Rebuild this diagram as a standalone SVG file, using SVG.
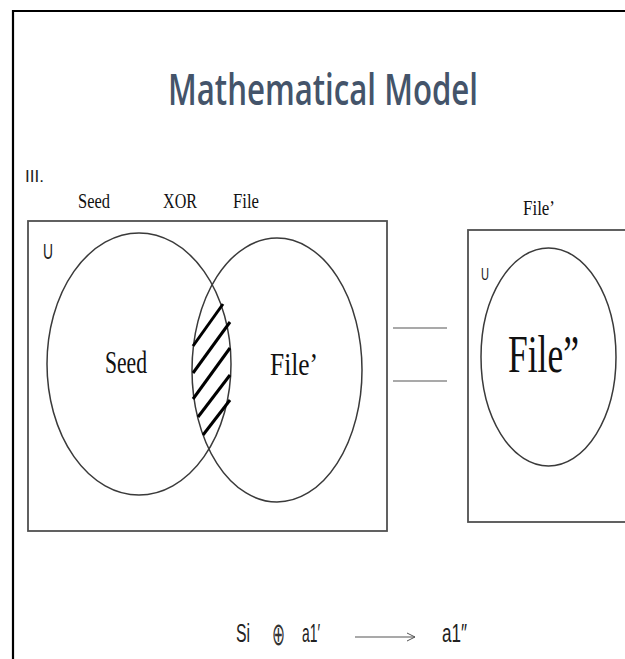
<svg xmlns="http://www.w3.org/2000/svg" width="625" height="659" viewBox="0 0 625 659">
<defs>
<style>
.frame{fill:none;stroke:#000;stroke-width:2.2}
.box{fill:none;stroke:#505050;stroke-width:1.8}
.circ{fill:none;stroke:#3a3a3a;stroke-width:1.5}
.hatch{stroke:#000;stroke-width:3;stroke-linecap:butt}
.serif{font-family:"Liberation Serif","Times New Roman",serif;fill:#111}
.sans{font-family:"Liberation Sans",Arial,sans-serif;fill:#222}
.title{font-family:"Open Sans","Liberation Sans",sans-serif;fill:#44546A;font-weight:600}
.conn{stroke:#555;stroke-width:1.2;fill:none}
</style>
<marker id="open" viewBox="0 0 10 10" refX="9" refY="5" markerWidth="10" markerHeight="10" markerUnits="userSpaceOnUse" orient="auto">
<path d="M1,1 L9,5 L1,9" fill="none" stroke="#555" stroke-width="1"/>
</marker>
</defs>
<rect width="625" height="659" fill="#fff"/>
<path class="frame" d="M13,659 V11 H625"/>
<text class="title" x="168" y="105" font-size="44" textLength="310" lengthAdjust="spacingAndGlyphs">Mathematical Model</text>
<text class="sans" x="25" y="182" font-size="17" fill="#333">III.</text>
<text class="serif" x="78" y="208" font-size="22" textLength="32" lengthAdjust="spacingAndGlyphs">Seed</text>
<text class="serif" x="163" y="208" font-size="22" textLength="34" lengthAdjust="spacingAndGlyphs">XOR</text>
<text class="serif" x="233" y="208" font-size="22" textLength="26" lengthAdjust="spacingAndGlyphs">File</text>
<g id="venn">
<rect class="box" x="28" y="221" width="359" height="310"/>
<text class="sans" x="43" y="259" font-size="22" textLength="10" lengthAdjust="spacingAndGlyphs">U</text>
<g id="seed">
<ellipse class="circ" cx="139" cy="364" rx="92" ry="131"/>
<text class="serif" x="105" y="373" font-size="31" textLength="42" lengthAdjust="spacingAndGlyphs">Seed</text>
</g>
<g id="file">
<ellipse class="circ" cx="277" cy="370" rx="85" ry="132"/>
<text class="serif" x="270" y="375" font-size="31" textLength="48" lengthAdjust="spacingAndGlyphs">File’</text>
</g>
<g id="hatching">
<line class="hatch" x1="193" y1="346" x2="223" y2="304"/>
<line class="hatch" x1="193" y1="373" x2="230" y2="322"/>
<line class="hatch" x1="193" y1="399" x2="230" y2="348"/>
<line class="hatch" x1="198" y1="417" x2="230" y2="375"/>
<line class="hatch" x1="203" y1="435" x2="230" y2="400"/>
</g>
</g>
<g id="connectors">
<line class="conn" x1="393" y1="328" x2="447" y2="328"/>
<line class="conn" x1="393" y1="381" x2="447" y2="381"/>
<line class="conn" x1="355" y1="637" x2="415" y2="637" marker-end="url(#open)"/>
</g>
<g id="result">
<text class="serif" x="523" y="215" font-size="22" textLength="32" lengthAdjust="spacingAndGlyphs">File’</text>
<rect class="box" x="468" y="230" width="170" height="292"/>
<text class="sans" x="481" y="280" font-size="17" textLength="8" lengthAdjust="spacingAndGlyphs">U</text>
<ellipse class="circ" cx="548.5" cy="357" rx="67.5" ry="109"/>
<text class="serif" x="508" y="372" font-size="52" textLength="71" lengthAdjust="spacingAndGlyphs">File”</text>
</g>
<g id="formula">
<text class="sans" x="236" y="642" font-size="25" textLength="14" lengthAdjust="spacingAndGlyphs">Si</text>
<text x="272" y="645" font-family="DejaVu Sans,sans-serif" font-size="32" textLength="13" lengthAdjust="spacingAndGlyphs" fill="#333">⊕</text>
<text class="sans" x="302" y="642" font-size="25" textLength="18" lengthAdjust="spacingAndGlyphs">a1′</text>
<text class="sans" x="442" y="642" font-size="25" textLength="25" lengthAdjust="spacingAndGlyphs">a1″</text>
</g>
</svg>
